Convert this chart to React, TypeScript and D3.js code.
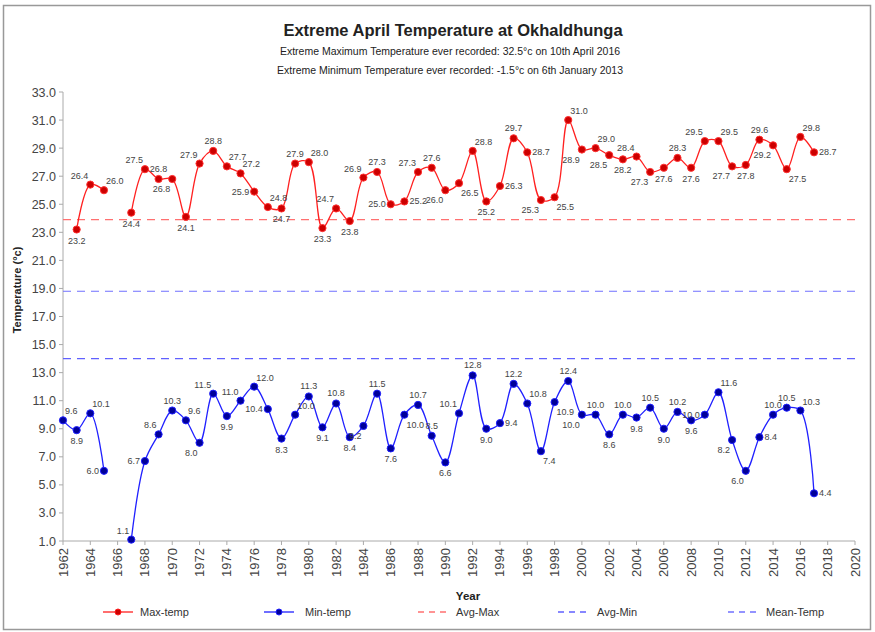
import React from "react";
import * as d3 from "d3";

const years = [1962,1963,1964,1965,1966,1967,1968,1969,1970,1971,1972,1973,1974,1975,1976,1977,1978,1979,1980,1981,1982,1983,1984,1985,1986,1987,1988,1989,1990,1991,1992,1993,1994,1995,1996,1997,1998,1999,2000,2001,2002,2003,2004,2005,2006,2007,2008,2009,2010,2011,2012,2013,2014,2015,2016,2017];
const maxTemp: (number | null)[] = [null,23.2,26.4,26.0,null,24.4,27.5,26.8,26.8,24.1,27.9,28.8,27.7,27.2,25.9,24.8,24.7,27.9,28.0,23.3,24.7,23.8,26.9,27.3,25.0,25.2,27.3,27.6,26.0,26.5,28.8,25.2,26.3,29.7,28.7,25.3,25.5,31.0,28.9,29.0,28.5,28.2,28.4,27.3,27.6,28.3,27.6,29.5,29.5,27.7,27.8,29.6,29.2,27.5,29.8,28.7];
const minTemp: (number | null)[] = [9.6,8.9,10.1,6.0,null,1.1,6.7,8.6,10.3,9.6,8.0,11.5,9.9,11.0,12.0,10.4,8.3,10.0,11.3,9.1,10.8,8.4,9.2,11.5,7.6,10.0,10.7,8.5,6.6,10.1,12.8,9.0,9.4,12.2,10.8,7.4,10.9,12.4,10.0,10.0,8.6,10.0,9.8,10.5,9.0,10.2,9.6,10.0,11.6,8.2,6.0,8.4,10.0,10.5,10.3,4.4];
const avgMax = 23.9;
const meanTemp = 18.8;
const avgMin = 14.0;
const yTicks = [1,3,5,7,9,11,13,15,17,19,21,23,25,27,29,31,33];
const xTicks = [1962,1964,1966,1968,1970,1972,1974,1976,1978,1980,1982,1984,1986,1988,1990,1992,1994,1996,1998,2000,2002,2004,2006,2008,2010,2012,2014,2016,2018,2020];

// label placement (style), one per year
const maxLabelPos = ["-","b","tl","tr","-","b","tl","t","bl","b","tl","t","tr","tr","l","tr","b","t","tr","b","tl","b","tl","t","l","r","tl","t","bl","br","tr","b","r","t","r","bl","br","tr","bl","tr","bl","b","tl","bl","b","t","b","tl","tr","bl","b","t","bl","br","tr","r"];
const minLabelPos = ["tr","b","tr","l","-","tl","l","tl","t","tr","bl","tl","b","tl","tr","l","b","tr","t","b","t","b","bl","t","b","br","t","t","b","tl","t","b","r","t","tr","br","br","t","bl","t","b","t","b","t","b","t","b","l","tr","bl","bl","r","t","t","tr","r"];

const W = 875, H = 632;
const font = "'Liberation Sans', Arial, sans-serif";

const x = d3.scaleLinear().domain([1962, 2020]).range([63, 855]);
const y = d3.scaleLinear().domain([1, 33]).range([541, 92]);

function offs(p: string): { dx: number; dy: number; a: string } {
  switch (p) {
    case "t": return { dx: 0, dy: -7, a: "middle" };
    case "b": return { dx: 0, dy: 14, a: "middle" };
    case "l": return { dx: -5, dy: 3, a: "end" };
    case "r": return { dx: 5, dy: 3, a: "start" };
    case "tl": return { dx: -2, dy: -6, a: "end" };
    case "tr": return { dx: 2, dy: -6, a: "start" };
    case "bl": return { dx: -2, dy: 13, a: "end" };
    default: return { dx: 2, dy: 13, a: "start" };
  }
}

function Series({ vals, pos, line, fill, stroke }: any) {
  const gen = d3
    .line<number | null>()
    .defined((d) => d !== null)
    .x((_, i) => x(years[i]))
    .y((d) => y(d as number))
    .curve(d3.curveCatmullRom.alpha(0.5));
  return (
    <g>
      <path d={gen(vals) || ""} fill="none" stroke={line} strokeWidth={1.3} />
      {vals.map((v: number | null, i: number) =>
        v === null ? null : (
          <circle key={i} cx={x(years[i])} cy={y(v)} r={3.6} fill={fill} stroke={stroke} strokeWidth={1} />
        )
      )}
      {vals.map((v: number | null, i: number) => {
        if (v === null) return null;
        const o = offs(pos[i]);
        return (
          <text key={"l" + i} x={x(years[i]) + o.dx} y={y(v) + o.dy} textAnchor={o.a} fontSize={9} fill="#444" fontFamily={font}>
            {v.toFixed(1)}
          </text>
        );
      })}
    </g>
  );
}

export default function App() {
  const legend = [
    { lx: 103, tx: 140, label: "Max-temp", color: "#ff2020", marker: "#cc0000", dash: "" },
    { lx: 264, tx: 305, label: "Min-temp", color: "#2020ff", marker: "#000099", dash: "" },
    { lx: 418, tx: 456, label: "Avg-Max", color: "#ff7070", marker: "", dash: "6,5" },
    { lx: 558, tx: 597, label: "Avg-Min", color: "#6060ff", marker: "", dash: "6,5" },
    { lx: 728, tx: 766, label: "Mean-Temp", color: "#7070ff", marker: "", dash: "6,5" },
  ];
  return (
    <svg width={W} height={H} style={{ position: "absolute", left: 0, top: 0, background: "#fff" }} fontFamily={font}>
      <rect x={3.5} y={5.5} width={867} height={624} fill="#fff" stroke="#999" strokeWidth={1.5} />
      <text x={453} y={36} textAnchor="middle" fontSize={16.5} fontWeight="bold" fill="#222">Extreme April  Temperature at Okhaldhunga</text>
      <text x={450} y={55} textAnchor="middle" fontSize={10.5} fill="#222">Extreme Maximum Temperature ever recorded: 32.5°c on 10th April 2016</text>
      <text x={450} y={74} textAnchor="middle" fontSize={10.5} fill="#222">Extreme Minimum Temperature ever recorded: -1.5°c on 6th January 2013</text>

      {/* axes */}
      <line x1={x(1962)} x2={x(1962)} y1={y(33)} y2={y(1)} stroke="#aaa" />
      <line x1={x(1962)} x2={x(2020)} y1={y(1)} y2={y(1)} stroke="#aaa" />
      {yTicks.map((t) => (
        <g key={t}>
          <line x1={x(1962) - 4} x2={x(1962)} y1={y(t)} y2={y(t)} stroke="#aaa" />
          <text x={56} y={y(t) + 4.5} textAnchor="end" fontSize={12.5} fill="#444">{t.toFixed(1)}</text>
        </g>
      ))}
      {xTicks.map((t) => (
        <g key={t}>
          <line x1={x(t)} x2={x(t)} y1={y(1)} y2={y(1) + 4} stroke="#aaa" />
          <text transform={`translate(${x(t) + 4.5},${y(1) + 7}) rotate(-90)`} textAnchor="end" fontSize={13} fill="#444">{t}</text>
        </g>
      ))}
      <text transform={`translate(21,290) rotate(-90)`} textAnchor="middle" fontSize={11} fontWeight="bold" fill="#222">Temperature (°c)</text>
      <text x={468} y={600} textAnchor="middle" fontSize={11.5} fontWeight="bold" fill="#222">Year</text>

      {/* reference lines */}
      <line x1={x(1962)} x2={x(2020)} y1={y(avgMax)} y2={y(avgMax)} stroke="#ff7070" strokeWidth={1.2} strokeDasharray="8,6" />
      <line x1={x(1962)} x2={x(2020)} y1={y(meanTemp)} y2={y(meanTemp)} stroke="#7070ff" strokeWidth={1.2} strokeDasharray="8,6" />
      <line x1={x(1962)} x2={x(2020)} y1={y(avgMin)} y2={y(avgMin)} stroke="#6060ff" strokeWidth={1.2} strokeDasharray="8,6" />

      <Series vals={maxTemp} pos={maxLabelPos} line="#ff2020" fill="#cc0000" stroke="#ff3030" />
      <Series vals={minTemp} pos={minLabelPos} line="#2020ff" fill="#000099" stroke="#2020ff" />

      {/* legend */}
      {legend.map((l) => (
        <g key={l.label}>
          <line x1={l.lx} x2={l.lx + 30} y1={612} y2={612} stroke={l.color} strokeWidth={1.3} strokeDasharray={l.dash || undefined} />
          {l.marker ? <circle cx={l.lx + 15} cy={612} r={3} fill={l.marker} stroke={l.color} /> : null}
          <text x={l.tx} y={616} fontSize={11} fill="#333">{l.label}</text>
        </g>
      ))}
    </svg>
  );
}
